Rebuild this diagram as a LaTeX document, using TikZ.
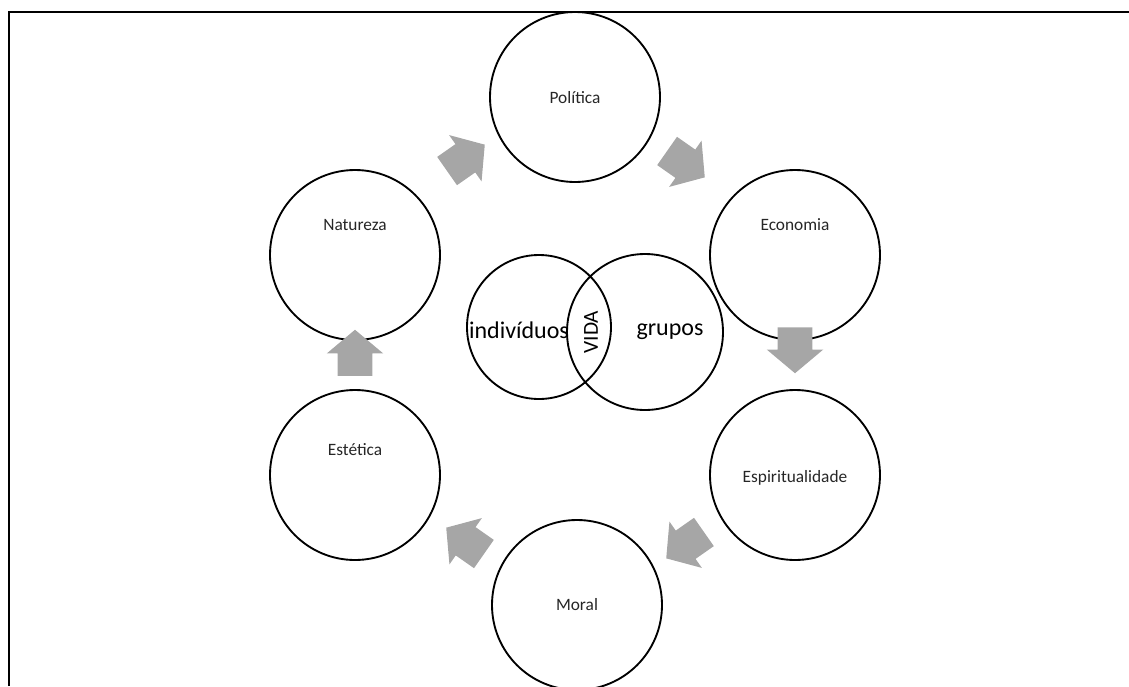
\documentclass[tikz,border=0pt]{standalone}
\usepackage{fontspec}
\setmainfont{Carlito}
\usetikzlibrary{shapes.arrows, positioning}
\definecolor{arrowgray}{HTML}{A6A6A6}
\definecolor{labelgray}{HTML}{262626}

\tikzset{
	area/.style={circle, draw, line width=1.4pt, minimum size=127.5pt, inner sep=0pt},
	arealabel/.style={text=labelgray, font=\fontsize{13}{15}\selectfont},
	venn/.style={circle, draw, line width=1.4pt, inner sep=0pt},
	vennlabel/.style={font=\fontsize{18}{21}\selectfont},
	flow/.style={single arrow, fill=arrowgray, draw=none, inner xsep=0pt, inner ysep=12.75pt,
		minimum height=34.5pt,
		single arrow head extend=8.25pt, single arrow tip angle=100}
}

\begin{document}
\begin{tikzpicture}[x=0.75pt, y=-0.75pt]
	\useasboundingbox (0,0) rectangle (1129,686);
	\draw [line width=1.6pt] (9,686) -- (9,12) -- (1129,12);

	% outer ring
	\node [area] (pol) at (575, 97) {};
	\node [area] (eco) at (795, 255) {};
	\node [area] (esp) at (795, 475) {};
	\node [area] (mor) at (577, 605) {};
	\node [area] (est) at (355, 475) {};
	\node [area] (nat) at (355, 255) {};

	\node [arealabel] (polt) at (575, 98) {Política};
	\node [arealabel] (ecot) at (795, 225) {Economia};
	\node [arealabel] (espt) at (795, 478) {Espiritualidade};
	\node [arealabel] (mort) at (577, 605) {Moral};
	\node [arealabel] (estt) at (355, 450) {Estética};
	\node [arealabel] (natt) at (355, 225) {Natureza};

	% arrows between the areas
	\node [flow, rotate=35] (a1) at (460, 162) {};
	\node [flow, rotate=-35] (a2) at (680, 160) {};
	\node [flow, rotate=-90] (a3) at (795, 343) {};
	\node [flow, rotate=-145] (a4) at (691, 541) {};
	\node [flow, rotate=145] (a5) at (471, 545) {};
	\node [flow, rotate=90] (a6) at (355, 360) {};

	% centre
	\node [venn, minimum size=108pt] (ind) at (539, 327) {};
	\node [venn, minimum size=117pt] (grp) at (645, 332) {};
	\node [vennlabel] (indt) at (519, 330) {indivíduos};
	\node [vennlabel] (grpt) at (670, 332) {grupos};
	\node [vennlabel, font=\fontsize{16}{19}\selectfont, rotate=90] (vida) at (591, 332) {VIDA};
\end{tikzpicture}
\end{document}
